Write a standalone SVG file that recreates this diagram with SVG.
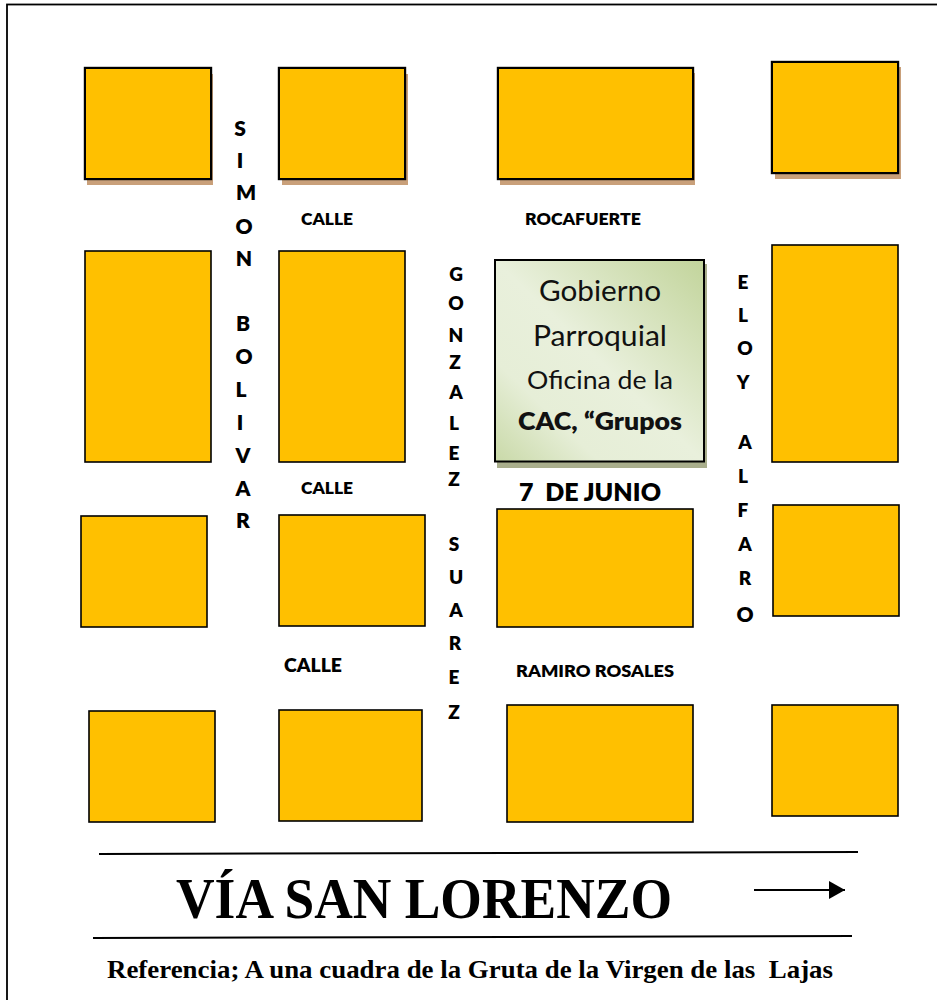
<svg xmlns="http://www.w3.org/2000/svg" width="937" height="1000" viewBox="0 0 937 1000">
<style>
.b{fill:#ffc000;stroke:#000;stroke-width:1.6}
.t{fill:#000;stroke:#000;stroke-width:2.4}
.s{fill:#c9a07a}
.s2{fill:#a9ae8c}
.c{font-family:Lato,"Liberation Sans",sans-serif;font-weight:800;fill:#000}
.v{font-size:21px;text-anchor:middle}
.n{font-size:17px}
.g{font-family:Lato,"Liberation Sans",sans-serif;fill:#111;text-anchor:middle}
.r{font-family:"Liberation Serif",serif;font-weight:700;fill:#000}
.l{stroke:#000;stroke-width:2;fill:none}
</style>
<defs>
<linearGradient id="gr" x1="1" y1="0" x2="0" y2="1">
<stop offset="0" stop-color="#c2d49b"/><stop offset="0.5" stop-color="#e9f0dc"/><stop offset="0.75" stop-color="#e6eed7"/><stop offset="1" stop-color="#c9d9a8"/>
</linearGradient>
<marker id="a" markerUnits="userSpaceOnUse" markerWidth="16" markerHeight="18" refX="16" refY="9" orient="auto"><path d="M0 0L16 9L0 18Z" fill="#000"/></marker>
</defs>
<rect x="7" y="4.500" width="940" height="1010" fill="#fff" stroke="#000" stroke-width="1.800"/>
<g id="block-1"><rect class="s" x="87" y="74" width="126" height="111"/><rect class="t" x="85" y="68" width="126" height="111"/><rect x="86" y="69" width="124" height="109" fill="#ffc000"/></g>
<g id="block-2"><rect class="s" x="282" y="74" width="126" height="111"/><rect class="t" x="279" y="68" width="126" height="111"/><rect x="280" y="69" width="124" height="109" fill="#ffc000"/></g>
<g id="block-3"><rect class="s" x="500" y="73" width="195" height="112"/><rect class="t" x="498" y="68" width="195" height="111"/><rect x="499" y="69" width="193" height="109" fill="#ffc000"/></g>
<g id="block-4"><rect class="s" x="775" y="67" width="126" height="112"/><rect class="t" x="772" y="62" width="126" height="111"/><rect x="773" y="63" width="124" height="109" fill="#ffc000"/></g>
<g id="block-5"><rect class="b" x="85" y="251" width="126" height="211"/></g>
<g id="block-6"><rect class="b" x="279" y="251" width="126" height="211"/></g>
<g id="block-7"><rect class="b" x="772" y="245" width="126" height="217"/></g>
<g id="block-8"><rect class="b" x="81" y="516" width="126" height="111"/></g>
<g id="block-9"><rect class="b" x="279" y="515" width="146" height="111"/></g>
<g id="block-10"><rect class="b" x="497" y="509" width="196" height="118"/></g>
<g id="block-11"><rect class="b" x="773" y="505" width="126" height="111"/></g>
<g id="block-12"><rect class="b" x="89" y="711" width="126" height="111"/></g>
<g id="block-13"><rect class="b" x="279" y="710" width="143" height="111"/></g>
<g id="block-14"><rect class="b" x="507" y="705" width="186" height="117"/></g>
<g id="block-15"><rect class="b" x="772" y="705" width="126" height="111"/></g>
<g id="gobierno">
<rect class="s2" x="497" y="264" width="210" height="204"/>
<rect x="495" y="260" width="209" height="201.500" fill="url(#gr)" stroke="#000" stroke-width="2"/>
<text class="g" x="600" y="301" font-size="28" textLength="122" lengthAdjust="spacingAndGlyphs">Gobierno</text>
<text class="g" x="600" y="346" font-size="28" textLength="134" lengthAdjust="spacingAndGlyphs">Parroquial</text>
<text class="g" x="600" y="389" font-size="25" textLength="146" lengthAdjust="spacingAndGlyphs">Oficina de la</text>
<text class="g" x="600" y="430" font-size="25" font-weight="800" textLength="164" lengthAdjust="spacingAndGlyphs">CAC, “Grupos</text>
</g>
<g id="connectors">
<path class="l" d="M99 854L858 852"/>
<path class="l" d="M93 938L852 936"/>
<path class="l" d="M754 890H845" marker-end="url(#a)"/>
</g>
<g id="labels">
<g class="c v">
<text x="240" y="136">S</text><text x="240" y="168">I</text><text x="246" y="200">M</text><text x="244" y="234">O</text><text x="244" y="266">N</text>
<text x="243" y="331">B</text><text x="244" y="364">O</text><text x="241" y="397">L</text><text x="240" y="430">I</text><text x="243" y="463">V</text><text x="243" y="496">A</text><text x="243" y="528">R</text>
</g>
<g class="c" style="font-size:19px;text-anchor:middle">
<text x="456" y="281">G</text><text x="456" y="310">O</text><text x="456" y="342">N</text><text x="455" y="369">Z</text><text x="456" y="399">A</text><text x="454" y="430">L</text><text x="454" y="460">E</text><text x="454" y="486">Z</text>
<text x="454" y="551">S</text><text x="456" y="584">U</text><text x="456" y="617">A</text><text x="455" y="650">R</text><text x="454" y="684">E</text><text x="454" y="719">Z</text>
</g>
<g class="c" style="font-size:19px;text-anchor:middle">
<text x="743" y="289">E</text><text x="743" y="322">L</text><text x="745" y="355">O</text><text x="743" y="389">Y</text>
<text x="745" y="449">A</text><text x="743" y="483">L</text><text x="743" y="517">F</text><text x="745" y="551">A</text><text x="745" y="585">R</text><text x="745" y="622" style="font-size:21px">O</text>
</g>
<text class="c n" x="301" y="225" textLength="52" lengthAdjust="spacingAndGlyphs">CALLE</text>
<text class="c n" x="525" y="225" textLength="116" lengthAdjust="spacingAndGlyphs">ROCAFUERTE</text>
<text class="c n" x="301" y="494" textLength="52" lengthAdjust="spacingAndGlyphs">CALLE</text>
<text class="c" x="519" y="501" font-size="25" textLength="142" lengthAdjust="spacing" xml:space="preserve">7  DE JUNIO</text>
<text class="c" x="284" y="672" font-size="19" textLength="58" lengthAdjust="spacingAndGlyphs">CALLE</text>
<text class="c n" x="516" y="677" textLength="158" lengthAdjust="spacingAndGlyphs">RAMIRO ROSALES</text>
<text class="r" x="176" y="918" font-size="56" textLength="496" lengthAdjust="spacingAndGlyphs">VÍA SAN LORENZO</text>
<text class="r" x="107" y="978" font-size="25" textLength="726" lengthAdjust="spacingAndGlyphs" xml:space="preserve">Referencia; A una cuadra de la Gruta de la Virgen de las  Lajas</text>
</g>
</svg>
